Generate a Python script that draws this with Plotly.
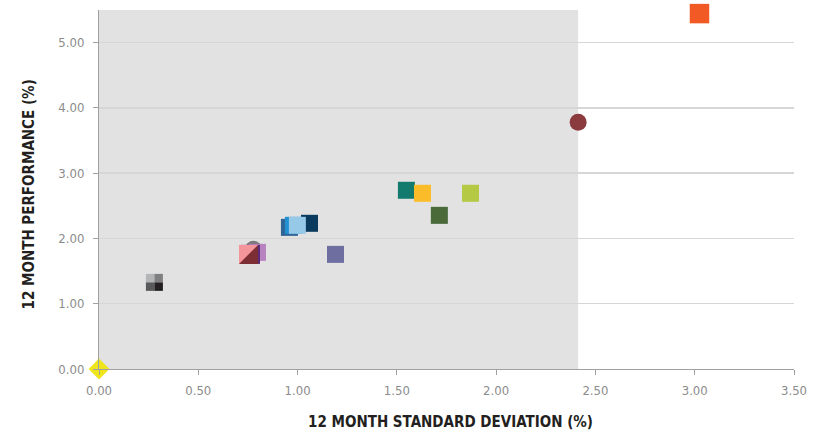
import plotly.graph_objects as go

# ---- data ----
names = ["Orange", "Benchmark", "Teal", "Gold", "Lime", "Dark green",
         "Navy", "Steel blue", "Mid blue", "Light blue", "Slate",
         "Grey circle", "Light purple", "Dark purple", "Pink"]
std_dev = [3.024, 2.413, 1.548, 1.629, 1.871, 1.714,
           1.060, 0.959, 0.979, 0.999, 1.191,
           0.778, 0.798, 0.763, 0.753]
perf = [5.445, 3.78, 2.738, 2.692, 2.692, 2.354,
        2.232, 2.170, 2.201, 2.201, 1.756,
        1.833, 1.787, 1.756, 1.756]
colors = ["#f15a24", "#8b3a3e", "#127b6e", "#fbbc2a", "#b5c944", "#4a6a3a",
          "#0a3a5e", "#2f6496", "#2090d0", "#96c8e8", "#6e6ea0",
          "#7a7a7a", "#b882c0", "#5a2a7a", "#f4959c"]
symbols = ["square", "circle", "square", "square", "square", "square",
           "square", "square", "square", "square", "square",
           "circle", "square", "square", "square"]
sizes = [19.5, 17, 17, 17, 17, 17, 17, 17, 17, 17, 17, 17, 17, 19, 19]

# split pink / maroon square (lower-right half)
split_x, split_y, split_color = 0.753, 1.756, "#7d2e35"
# four-tone grey square
quad_x, quad_y = 0.279, 1.327
quad_colors = ["#b4b5b7", "#7f8082", "#58595b", "#231f20"]  # TL, TR, BL, BR
# cash / zero point
zero_x, zero_y = [0.0], [0.0]

x_ticks = [0, 0.5, 1.0, 1.5, 2.0, 2.5, 3.0, 3.5]
y_ticks = [0, 1, 2, 3, 4, 5]
x_range = [0, 3.5]
y_range = [0, 5.5]

W, H = 817, 432
ML, MR, MT, MB = 99, 23, 10, 63
px_x = (W - ML - MR) / (x_range[1] - x_range[0])
px_y = (H - MT - MB) / (y_range[1] - y_range[0])

fig = go.Figure()

# benchmark shaded region (x up to benchmark risk)
bench_x = std_dev[1]
fig.add_shape(type="rect", xref="x", yref="paper", x0=0, x1=bench_x, y0=0, y1=1,
              fillcolor="#e1e2e1", line_width=0, layer="below")

for i in range(len(names)):
    fig.add_trace(go.Scatter(
        x=[std_dev[i]], y=[perf[i]], mode="markers", name=names[i],
        marker=dict(symbol=symbols[i], size=sizes[i], color=colors[i],
                    line=dict(width=0)),
        cliponaxis=False, showlegend=False))

# lower-right triangle of the pink square
hx = 9.5 / px_x
hy = 9.5 / px_y
fig.add_trace(go.Scatter(
    x=[split_x + hx, split_x + hx, split_x - hx, split_x + hx],
    y=[split_y + hy, split_y - hy, split_y - hy, split_y + hy],
    mode="lines", fill="toself", fillcolor=split_color,
    line=dict(width=0, color=split_color), showlegend=False, hoverinfo="skip"))

# four-tone square
qx = 4.25 / px_x
qy = 4.25 / px_y
qxs = [quad_x - qx, quad_x + qx, quad_x - qx, quad_x + qx]
qys = [quad_y + qy, quad_y + qy, quad_y - qy, quad_y - qy]
fig.add_trace(go.Scatter(
    x=qxs, y=qys, mode="markers",
    marker=dict(symbol="square", size=8.5, color=quad_colors, line=dict(width=0)),
    showlegend=False))

# zero point diamond
fig.add_trace(go.Scatter(
    x=zero_x, y=zero_y, mode="markers", cliponaxis=False,
    marker=dict(symbol="diamond", size=16, color="#f0e51c", line=dict(width=0)),
    showlegend=False))

FONT = "DejaVu Sans Condensed, DejaVu Sans, sans-serif"
tick_font = dict(family=FONT, size=13, color="#8c8c8c")
title_font = dict(family=FONT, size=15, color="#231f20")

fig.update_layout(
    width=W, height=H,
    margin=dict(l=ML, r=MR, t=MT, b=MB),
    paper_bgcolor="white", plot_bgcolor="white",
    xaxis=dict(range=x_range, tickvals=x_ticks,
               ticktext=[f"{v:.2f}" for v in x_ticks],
               showgrid=False, zeroline=False, showline=True,
               linecolor="#a0a0a0", linewidth=1,
               ticks="outside", ticklen=5, tickcolor="#a0a0a0",
               ticklabelstandoff=4,
               tickfont=tick_font, fixedrange=True),
    yaxis=dict(range=y_range, tickvals=y_ticks,
               ticktext=[f"{v:.2f}" for v in y_ticks],
               showgrid=True, gridcolor="#d6d6d6", gridwidth=1.5,
               zeroline=False, showline=True,
               linecolor="#a0a0a0", linewidth=1,
               ticks="outside", ticklen=5, tickcolor="#a0a0a0",
               ticklabelstandoff=6,
               tickfont=tick_font, fixedrange=True),
    annotations=[
        dict(text="<b>12 MONTH STANDARD DEVIATION (%)</b>", xref="paper", yref="paper",
             x=(450 - ML) / (W - ML - MR), y=-(422 - (H - MB)) / (H - MT - MB),
             xanchor="center", yanchor="middle", showarrow=False, font=title_font),
        dict(text="<b>12 MONTH PERFORMANCE (%)</b>", xref="paper", yref="paper",
             x=-(ML - 28.5) / (W - ML - MR), y=((H - MB) - 195) / (H - MT - MB),
             xanchor="center", yanchor="middle", textangle=-90,
             showarrow=False, font=title_font),
    ],
)

fig.write_html("out.html", config={"displayModeBar": False, "staticPlot": True})

# remove the browser's default page margin so the figure sits at the top-left
with open("out.html", "r", encoding="utf-8") as f:
    html = f.read()
html = html.replace("<head>", "<head><style>html,body{margin:0;padding:0;}</style>", 1)
with open("out.html", "w", encoding="utf-8") as f:
    f.write(html)
